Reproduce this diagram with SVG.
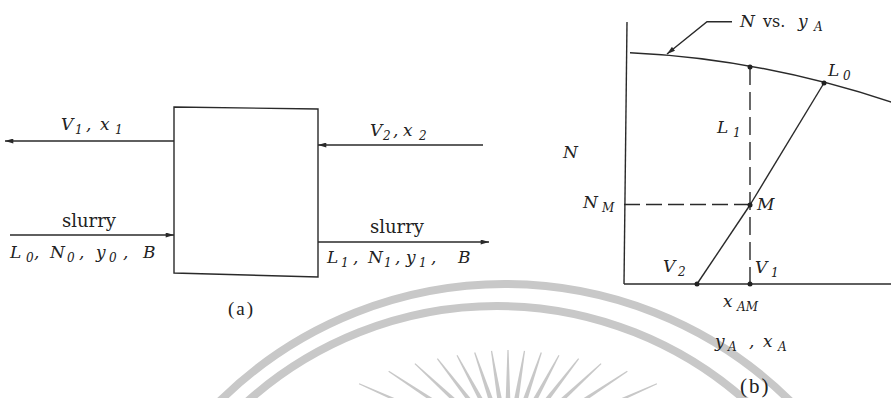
<svg xmlns="http://www.w3.org/2000/svg" width="891" height="398" viewBox="0 0 891 398">
<defs>
<style>
.ln{fill:none;stroke:#2a2a2a;stroke-width:1.4}
.dash{fill:none;stroke:#2a2a2a;stroke-width:1.4;stroke-dasharray:16 6}
.dashv{fill:none;stroke:#2a2a2a;stroke-width:1.4;stroke-dasharray:18 7}
.dot{fill:#222}
.t{font-family:"DejaVu Serif","Liberation Serif",serif;font-style:italic;font-size:17px;fill:#222}
.u{font-family:"DejaVu Serif","Liberation Serif",serif;font-size:18px;fill:#222}
.p{font-family:"Liberation Serif","DejaVu Serif",serif;fill:#222}
.sub{font-size:12px}
.wm{fill:none;stroke:#c8c8c8;stroke-width:8}
.ray{fill:#c8c8c8}
</style>
<marker id="ah" viewBox="0 0 10 6" refX="10" refY="3" markerWidth="9" markerHeight="5" markerUnits="userSpaceOnUse" orient="auto">
<path d="M0,0 L10,3 L0,6 z" fill="#2a2a2a"/>
</marker>
</defs>
<rect width="891" height="398" fill="#ffffff"/>

<g id="watermark">
<circle class="wm" cx="505" cy="690" r="406"/>
<circle class="wm" cx="497" cy="680" r="374"/>
<g transform="translate(508,450)">
<path class="ray" d="M-0.6,-163 L0.6,-163 L3,-30 L-3,-30Z" transform="rotate(-66)"/>
<path class="ray" d="M-0.6,-143 L0.6,-143 L3,-30 L-3,-30Z" transform="rotate(-56.57)"/>
<path class="ray" d="M-0.6,-127 L0.6,-127 L3,-30 L-3,-30Z" transform="rotate(-47.14)"/>
<path class="ray" d="M-0.6,-115.5 L0.6,-115.5 L3,-30 L-3,-30Z" transform="rotate(-37.71)"/>
<path class="ray" d="M-0.6,-107.6 L0.6,-107.6 L3,-30 L-3,-30Z" transform="rotate(-28.29)"/>
<path class="ray" d="M-0.6,-103 L0.6,-103 L3,-30 L-3,-30Z" transform="rotate(-18.86)"/>
<path class="ray" d="M-0.6,-100.5 L0.6,-100.5 L3,-30 L-3,-30Z" transform="rotate(-9.43)"/>
<path class="ray" d="M-0.6,-100 L0.6,-100 L3,-30 L-3,-30Z"/>
<path class="ray" d="M-0.6,-100.5 L0.6,-100.5 L3,-30 L-3,-30Z" transform="rotate(9.43)"/>
<path class="ray" d="M-0.6,-103 L0.6,-103 L3,-30 L-3,-30Z" transform="rotate(18.86)"/>
<path class="ray" d="M-0.6,-107.6 L0.6,-107.6 L3,-30 L-3,-30Z" transform="rotate(28.29)"/>
<path class="ray" d="M-0.6,-115.5 L0.6,-115.5 L3,-30 L-3,-30Z" transform="rotate(37.71)"/>
<path class="ray" d="M-0.6,-127 L0.6,-127 L3,-30 L-3,-30Z" transform="rotate(47.14)"/>
<path class="ray" d="M-0.6,-143 L0.6,-143 L3,-30 L-3,-30Z" transform="rotate(56.57)"/>
<path class="ray" d="M-0.6,-163 L0.6,-163 L3,-30 L-3,-30Z" transform="rotate(66)"/>
</g>
</g>

<!-- Part (a) -->
<g id="stage">
<path class="ln" d="M174,107 L318,109 L318,277 L174,273 Z"/>
</g>

<g id="connectors-a">
<line class="ln" x1="174" y1="141" x2="5" y2="141" marker-end="url(#ah)"/>
<line class="ln" x1="10" y1="235" x2="174" y2="235" marker-end="url(#ah)"/>
<line class="ln" x1="483" y1="145" x2="318" y2="145" marker-end="url(#ah)"/>
<line class="ln" x1="318" y1="242" x2="489" y2="242" marker-end="url(#ah)"/>
</g>

<g id="labels-a">
<text class="t" y="130"><tspan x="61">V</tspan><tspan class="sub" x="75" dy="4">1</tspan><tspan x="86" dy="-4">,</tspan><tspan x="100">x</tspan><tspan class="sub" x="115" dy="4">1</tspan></text>
<text class="u" x="62" y="227">slurry</text>
<text class="t" y="258"><tspan x="10">L</tspan><tspan class="sub" x="26" dy="4">0</tspan><tspan x="34" dy="-4">,</tspan><tspan x="50">N</tspan><tspan class="sub" x="67" dy="4">0</tspan><tspan x="79" dy="-4">,</tspan><tspan x="96">y</tspan><tspan class="sub" x="109" dy="4">0</tspan><tspan x="123" dy="-4">,</tspan><tspan x="143">B</tspan></text>
<text class="t" y="136"><tspan x="370">V</tspan><tspan class="sub" x="383" dy="4">2</tspan><tspan x="393" dy="-4">,</tspan><tspan x="403">x</tspan><tspan class="sub" x="419" dy="4">2</tspan></text>
<text class="u" x="370" y="233">slurry</text>
<text class="t" y="263"><tspan x="327">L</tspan><tspan class="sub" x="341" dy="4">1</tspan><tspan x="353" dy="-4">,</tspan><tspan x="368">N</tspan><tspan class="sub" x="384" dy="4">1</tspan><tspan x="395" dy="-4">,</tspan><tspan x="406">y</tspan><tspan class="sub" x="419" dy="4">1</tspan><tspan x="431" dy="-4">,</tspan><tspan x="458">B</tspan></text>
<text class="p" x="228" y="315" font-size="19" letter-spacing="2">(a)</text>
</g>

<!-- Part (b) -->
<g id="chart-b">
<line class="ln" x1="627" y1="22" x2="624" y2="284"/>
<line class="ln" x1="624" y1="284" x2="891" y2="284"/>
<path class="ln" d="M630,52.7 Q760.5,58.6 893,102.6"/>
<path class="ln" d="M732,21.7 L707,21.7 L667,54" marker-end="url(#ah)"/>
<line class="dashv" x1="750" y1="67" x2="750" y2="284"/>
<line class="dash" x1="624" y1="204.5" x2="750" y2="204.5"/>
<line class="ln" x1="824" y1="83" x2="750" y2="205"/>
<line class="ln" x1="697" y1="284" x2="750" y2="205"/>
</g>

<g id="points-b">
<circle class="dot" cx="750" cy="67" r="2.5"/>
<circle class="dot" cx="824" cy="83" r="2.5"/>
<circle class="dot" cx="750" cy="205" r="2.5"/>
<circle class="dot" cx="697" cy="284" r="2.5"/>
<circle class="dot" cx="750" cy="284" r="2.5"/>
</g>

<g id="labels-b">
<text class="t" y="27"><tspan x="740">N</tspan><tspan x="763" font-style="normal" font-size="16">vs.</tspan><tspan x="798">y</tspan><tspan class="sub" x="814" dy="4">A</tspan></text>
<text class="t" y="133"><tspan x="717">L</tspan><tspan class="sub" x="733" dy="4">1</tspan></text>
<text class="t" y="76"><tspan x="828">L</tspan><tspan class="sub" x="843" dy="4">0</tspan></text>
<text class="t" x="563" y="158">N</text>
<text class="t" y="208"><tspan x="583">N</tspan><tspan class="sub" x="602" dy="4">M</tspan></text>
<text class="t" x="757" y="210">M</text>
<text class="t" y="272"><tspan x="663">V</tspan><tspan class="sub" x="678" dy="4">2</tspan></text>
<text class="t" y="273"><tspan x="755">V</tspan><tspan class="sub" x="771" dy="4">1</tspan></text>
<text class="t" y="307"><tspan x="723">x</tspan><tspan class="sub" x="737" dy="4">AM</tspan></text>
<text class="t" y="347"><tspan x="715">y</tspan><tspan class="sub" x="728" dy="4">A</tspan><tspan x="749" dy="-4">,</tspan><tspan x="763">x</tspan><tspan class="sub" x="778" dy="4">A</tspan></text>
<text class="p" x="740" y="393" font-size="21" letter-spacing="2">(b)</text>
</g>
</svg>
